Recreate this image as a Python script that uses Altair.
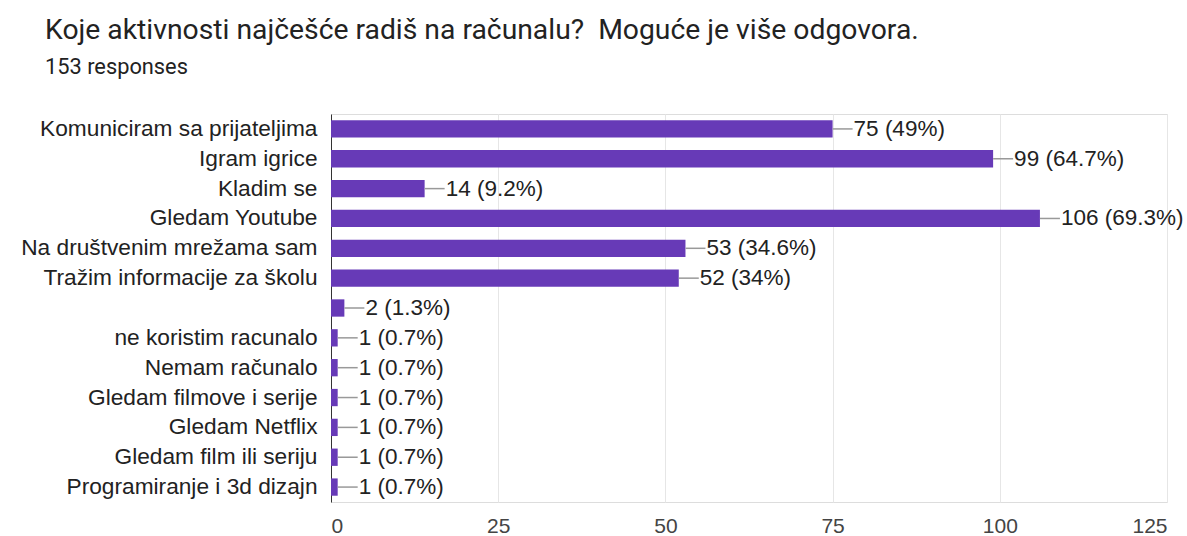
import altair as alt
import pandas as pd

categories = [
    "Komuniciram sa prijateljima",
    "Igram igrice",
    "Kladim se",
    "Gledam Youtube",
    "Na društvenim mrežama sam",
    "Tražim informacije za školu",
    " ",
    "ne koristim racunalo",
    "Nemam računalo",
    "Gledam filmove i serije",
    "Gledam Netflix",
    "Gledam film ili seriju",
    "Programiranje i 3d dizajn",
]
counts = [75, 99, 14, 106, 53, 52, 2, 1, 1, 1, 1, 1, 1]
value_labels = [
    "75 (49%)", "99 (64.7%)", "14 (9.2%)", "106 (69.3%)", "53 (34.6%)",
    "52 (34%)", "2 (1.3%)", "1 (0.7%)", "1 (0.7%)", "1 (0.7%)",
    "1 (0.7%)", "1 (0.7%)", "1 (0.7%)",
]
x_ticks = [0, 25, 50, 75, 100, 125]

df = pd.DataFrame({"cat": categories, "count": counts, "lbl": value_labels})

TFONT = "Roboto"
FONT = "Liberation Sans"
TXT = "#222222"

y = alt.Y("cat:N", sort=categories, title=None,
          scale=alt.Scale(paddingInner=0.42, paddingOuter=0.21),
          axis=alt.Axis(labelFontSize=22.7, labelColor=TXT, labelFont=FONT,
                        ticks=False, domainColor="#333333", labelPadding=14,
                        labelLimit=400))
x = alt.X("count:Q", title=None,
          scale=alt.Scale(domain=[0, 125], nice=False),
          axis=alt.Axis(values=x_ticks, labelFontSize=21, labelColor="#444444",
                        labelFont=FONT, ticks=False, domain=False,
                        gridColor="#e6e6e6", labelPadding=13))

bars = alt.Chart(df).mark_bar(color="#673ab7").encode(x=x, y=y)
leaders = alt.Chart(df).mark_rule(color="#999999", strokeWidth=1.5, x2Offset=20).encode(
    x="count:Q", x2="count:Q", y=alt.Y("cat:N", sort=categories))
texts = alt.Chart(df).mark_text(align="left", dx=21, fontSize=22.5, font=FONT,
                                color=TXT).encode(
    x="count:Q", y=alt.Y("cat:N", sort=categories), text="lbl:N")

chart = (bars + leaders + texts).properties(
    width=836, height=388,
    autosize=alt.AutoSizeParams(type="none"),
    padding={"left": 331, "top": 114, "right": 20, "bottom": 34},
    title=alt.TitleParams(
        text="Koje aktivnosti najčešće radiš na računalu? \u00a0Moguće je više odgovora.",
        subtitle="153 responses",
        anchor="start", frame="group", dx=-286, offset=34,
        fontSize=28.3, font=TFONT, fontWeight="normal", color=TXT,
        subtitleFontSize=21.8, subtitleFont=TFONT, subtitleColor=TXT,
        subtitlePadding=12,
    ),
).configure_view(stroke="#e6e6e6").configure(background="white")

chart.save("out.html", embed_options={"renderer": "svg", "actions": False})
